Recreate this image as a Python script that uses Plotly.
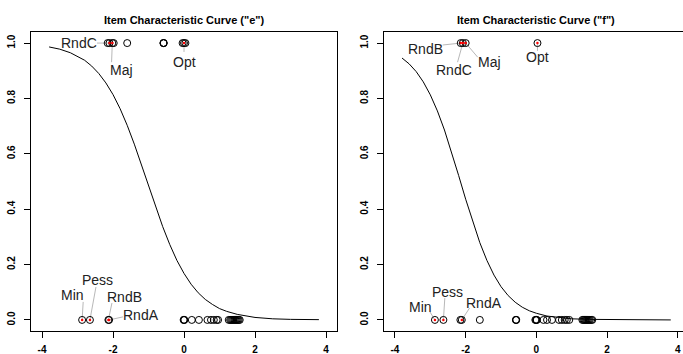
import plotly.graph_objects as go

W, H = 683, 354

# ---------------- data ----------------
# ICC curve for item "e"
curve_e_x = [-3.8, -3.5, -3.2, -3.0, -2.8, -2.6, -2.4, -2.2, -2.0, -1.8, -1.6, -1.4, -1.2, -1.0,
             -0.8, -0.6, -0.4, -0.2, 0.0, 0.2, 0.4, 0.6, 0.8, 1.0, 1.2, 1.5, 2.0, 2.5, 3.0, 3.5, 3.8]
curve_e_y = [0.986, 0.978, 0.965, 0.953, 0.938, 0.917, 0.890, 0.856, 0.814, 0.763, 0.703, 0.635, 0.561, 0.485,
             0.409, 0.337, 0.272, 0.215, 0.168, 0.129, 0.098, 0.074, 0.056, 0.041, 0.031, 0.020, 0.009, 0.004, 0.002, 0.001, 0.001]

# ICC curve for item "f"
curve_f_x = [-3.8, -3.6, -3.4, -3.2, -3.0, -2.8, -2.6, -2.4, -2.2, -2.0, -1.8, -1.6, -1.4, -1.2, -1.0,
             -0.8, -0.6, -0.4, -0.2, 0.0, 0.3, 0.6, 1.0, 1.5, 2.0, 3.0, 3.8]
curve_f_y = [0.946, 0.925, 0.897, 0.860, 0.813, 0.755, 0.686, 0.607, 0.522, 0.436, 0.353, 0.279, 0.215, 0.162, 0.120,
             0.088, 0.064, 0.046, 0.033, 0.024, 0.014, 0.009, 0.004, 0.002, 0.001, 0.0, 0.0]

# student abilities with response 1 / 0
e_theta_1 = [-2.15, -2.1, -2.02, -1.98, -1.6, -0.58, -0.575, -0.57, -0.04, 0.0, 0.04]
e_theta_0 = [-2.87, -2.65, -2.13, -2.11, -0.01, 0.0, 0.01, 0.22, 0.42, 0.66, 0.76, 0.84, 0.92, 0.96,
             1.26, 1.3, 1.33, 1.36, 1.39, 1.42, 1.45, 1.48, 1.51, 1.54, 1.57]
f_theta_1 = [-2.14, -2.08, -2.0, 0.03]
f_theta_0 = [-2.87, -2.63, -2.15, -2.11, -1.6, -0.58, -0.575, -0.57, -0.03, -0.01, 0.0, 0.01, 0.2, 0.3, 0.44,
             0.64, 0.72, 0.8, 0.86, 0.93, 1.3, 1.33, 1.36, 1.39, 1.42, 1.45, 1.48, 1.51, 1.55, 1.58]

# labelled students: name, theta, response
e_lab_names = ["RndC", "Maj", "Opt", "Min", "Pess", "RndB", "RndA"]
e_lab_theta = [-2.1, -2.02, 0.0, -2.87, -2.65, -2.13, -2.11]
e_lab_resp = [1, 1, 1, 0, 0, 0, 0]
f_lab_names = ["RndB", "RndC", "Maj", "Opt", "Min", "Pess", "RndA"]
f_lab_theta = [-2.14, -2.08, -2.0, 0.03, -2.87, -2.63, -2.11]
f_lab_resp = [1, 1, 1, 1, 0, 0, 0]

titles = ['Item Characteristic Curve ("e")', 'Item Characteristic Curve ("f")']
x_ticks = [-4, -2, 0, 2, 4]
x_tick_text = ["-4", "-2", "0", "2", "4"]
y_ticks = [0, 0.2, 0.4, 0.6, 0.8, 1.0]
y_tick_text = ["0.0", "0.2", "0.4", "0.6", "0.8", "1.0"]

# label placement (text centre, leader line end) -- layout, not data
e_label_pos = [(-2.97, 1.0, -2.45, 1.0), (-1.76, 0.903, -2.04, 0.931), (0.0, 0.931, 0.0, 0.968),
               (-3.14, 0.09, -2.84, 0.065), (-2.45, 0.144, -2.48, 0.119), (-1.69, 0.083, -2.03, 0.061),
               (-1.21, 0.018, -1.72, 0.011)]
f_label_pos = [(-3.14, 0.978, -2.65, 0.993), (-2.32, 0.903, -2.23, 0.931), (-1.32, 0.931, -1.66, 0.949),
               (0.03, 0.95, 0.03, 0.972), (-3.27, 0.047, -3.01, 0.029), (-2.51, 0.101, -2.59, 0.079),
               (-1.49, 0.061, -1.89, 0.043)]

FONT = "Liberation Sans, Arial, Helvetica, sans-serif"

fig = go.Figure()


def add_panel(xa, ya, cx, cy, t1, t0, names, lt, lr, pos):
    # leader lines
    for (tx, ty, ex, ey), th, r in zip(pos, lt, lr):
        fig.add_trace(go.Scatter(x=[th, ex], y=[r, ey], mode="lines",
                                 line=dict(color="#b8b8b8", width=1), xaxis=xa, yaxis=ya,
                                 showlegend=False, hoverinfo="skip"))
    fig.add_trace(go.Scatter(x=cx, y=cy, mode="lines", line=dict(color="black", width=1),
                             xaxis=xa, yaxis=ya, showlegend=False))
    fig.add_trace(go.Scatter(x=t1 + t0, y=[1] * len(t1) + [0] * len(t0), mode="markers",
                             marker=dict(symbol="circle-open", size=7, color="black",
                                         line=dict(width=1, color="black")),
                             xaxis=xa, yaxis=ya, showlegend=False))
    fig.add_trace(go.Scatter(x=lt, y=lr, mode="markers",
                             marker=dict(symbol="circle", size=2.5, color="red"),
                             xaxis=xa, yaxis=ya, showlegend=False))
    for name, (tx, ty, ex, ey) in zip(names, pos):
        fig.add_annotation(x=tx, y=ty, xref=xa, yref=ya, text=name, showarrow=False,
                           font=dict(family=FONT, size=14, color="#222222"),
                           xanchor="center", yanchor="middle")


add_panel("x", "y", curve_e_x, curve_e_y, e_theta_1, e_theta_0, e_lab_names, e_lab_theta, e_lab_resp, e_label_pos)
add_panel("x2", "y2", curve_f_x, curve_f_y, f_theta_1, f_theta_0, f_lab_names, f_lab_theta, f_lab_resp, f_label_pos)

y_dom = [(H - 331) / H, (H - 32) / H]
x1_dom = [31 / W, 337 / W]
x2_dom = [384 / W, 1.0]

axis_common = dict(showgrid=False, zeroline=False, showline=True, linecolor="black", linewidth=1,
                   ticks="outside", ticklen=6, tickwidth=1, tickcolor="black",
                   tickfont=dict(family=FONT, size=10, color="black", weight="bold"))

fig.update_layout(
    width=W, height=H, margin=dict(l=0, r=0, t=0, b=0),
    paper_bgcolor="white", plot_bgcolor="white", showlegend=False,
    xaxis=dict(domain=x1_dom, range=[-4.31, 4.31], tickvals=x_ticks, ticktext=x_tick_text,
               mirror=True, anchor="y", ticklabelstandoff=3, **axis_common),
    yaxis=dict(domain=y_dom, range=[-0.04, 1.04], tickvals=y_ticks, ticktext=y_tick_text,
               mirror=True, anchor="x", tickangle=-90, ticklabelstandoff=5, **axis_common),
    xaxis2=dict(domain=x2_dom, range=[-4.31, 4.146], tickvals=x_ticks, ticktext=x_tick_text,
                mirror=True, anchor="y2", ticklabelstandoff=3, **axis_common),
    yaxis2=dict(domain=y_dom, range=[-0.04, 1.04], tickvals=y_ticks, ticktext=y_tick_text,
                mirror=False, anchor="x2", tickangle=-90, ticklabelstandoff=5, **axis_common),
)

for i, t in enumerate(titles):
    fig.add_annotation(x=0, y=(H - 20) / H, xref=("x" if i == 0 else "x2"), yref="paper",
                       text="<b>" + t + "</b>", showarrow=False,
                       font=dict(family=FONT, size=11, color="black"),
                       xanchor="center", yanchor="middle")

fig.write_html("out.html")
